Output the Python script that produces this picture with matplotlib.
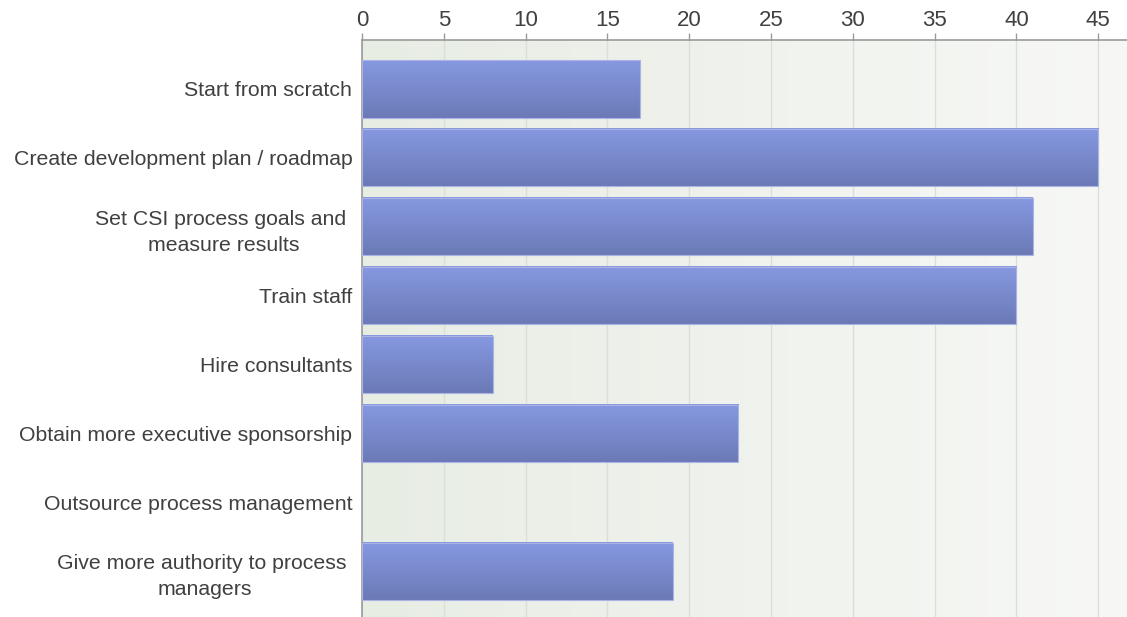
import numpy as np
import matplotlib
matplotlib.use("Agg")
import matplotlib.pyplot as plt
from matplotlib.colors import LinearSegmentedColormap

categories = [
    "Start from scratch",
    "Create development plan / roadmap",
    "Set CSI process goals and \nmeasure results",
    "Train staff",
    "Hire consultants",
    "Obtain more executive sponsorship",
    "Outsource process management",
    "Give more authority to process \nmanagers",
]
values = [17, 45, 41, 40, 8, 23, 0, 19]
xticks = [0, 5, 10, 15, 20, 25, 30, 35, 40, 45]

plt.rcParams["font.family"] = ["Liberation Sans", "DejaVu Sans"]

fig = plt.figure(figsize=(11.27, 6.17), dpi=100)
fig.patch.set_facecolor("white")
ax = fig.add_axes([362 / 1127, 0.0, 1 - 362 / 1127, 1 - 40 / 617])

ax.set_xlim(0, 46.76)
ax.set_ylim(7.663, -0.711)

# horizontal background wash
bg = LinearSegmentedColormap.from_list("bg", ["#e8ede4", "#f7f8f6"])
ax.imshow(np.linspace(0, 1, 256).reshape(1, -1), cmap=bg, aspect="auto",
          extent=[0, 1, 0, 1], transform=ax.transAxes, zorder=0)

ax.set_xticks(xticks)
ax.grid(axis="x", color="#dcdedb", linewidth=1.0, zorder=1)
ax.set_axisbelow(True)

# bars with a vertical shading
bar_cmap = LinearSegmentedColormap.from_list("bar", ["#8698e1", "#6b7ab6"])
ypos = np.arange(len(categories))
bars = ax.barh(ypos, values, height=0.83, facecolor="none",
               edgecolor="#aab4e4", linewidth=0.8, zorder=3)
grad = np.linspace(0, 1, 128).reshape(-1, 1)
for b in bars:
    x0, y0 = b.get_x(), b.get_y()
    w, h = b.get_width(), b.get_height()
    if w <= 0:
        b.set_visible(False)
        continue
    ax.imshow(grad, cmap=bar_cmap, aspect="auto",
              extent=[x0, x0 + w, y0 + h, y0], origin="upper", zorder=2)
ax.set_xlim(0, 46.76)
ax.set_ylim(7.663, -0.711)

ax.set_yticks(ypos)
ax.set_yticklabels(categories, multialignment="center", linespacing=1.45)
ax.tick_params(axis="y", length=0, pad=7, labelsize=15.3, labelcolor="#404040")

ax.xaxis.tick_top()
ax.tick_params(axis="x", length=5, width=1, color="#9a9a9a", pad=1.5,
               labelsize=16, labelcolor="#404040")

for side in ("right", "bottom"):
    ax.spines[side].set_visible(False)
for side in ("top", "left"):
    ax.spines[side].set_color("#9a9a9a")
    ax.spines[side].set_linewidth(1.2)

fig.savefig("out.png", dpi=100, facecolor="white")
